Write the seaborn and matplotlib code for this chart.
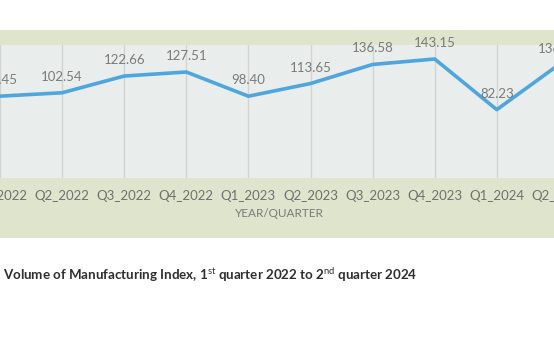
import numpy as np
import pandas as pd
import matplotlib
matplotlib.use("Agg")
import matplotlib.pyplot as plt
from matplotlib.patches import Rectangle
import seaborn as sns

# Volume of Manufacturing Index by quarter
quarters = ["Q1_2022", "Q2_2022", "Q3_2022", "Q4_2022",
            "Q1_2023", "Q2_2023", "Q3_2023", "Q4_2023",
            "Q1_2024", "Q2_2024"]
index_values = [98.45, 102.54, 122.66, 127.51,
                98.40, 113.65, 136.58, 143.15,
                82.23, 136.42]

df = pd.DataFrame({"pos": np.arange(len(quarters)), "quarter": quarters,
                   "value": index_values})

sns.set_theme(style="white")
plt.rcParams["font.family"] = ["Lato", "DejaVu Sans"]
plt.rcParams["mathtext.fontset"] = "custom"
plt.rcParams["mathtext.rm"] = "Lato"
plt.rcParams["mathtext.bf"] = "Lato:bold"

W, H = 554, 346
fig = plt.figure(figsize=(W / 100, H / 100), dpi=100)
fig.patch.set_facecolor("white")

# outer chart panel, behind the plot area
fig.patches.append(Rectangle((0, (H - 238) / H), 1, 208 / H,
                             transform=fig.transFigure,
                             facecolor="#dfe4cd", edgecolor="none", zorder=-10))

step = 62.1
left_px = -0.5 * step
ax = fig.add_axes([left_px / W, (H - 178) / H, 10 * step / W, 133 / H])
ax.set_facecolor("#e9edec")

sns.lineplot(data=df, x="pos", y="value", ax=ax, color="#4ea6de",
             linewidth=2.6, zorder=3)

for i, v in zip(df["pos"], df["value"]):
    ax.annotate(f"{v:.2f}", (i, v), xytext=(0, 11.5), textcoords="offset points",
                ha="center", va="center", fontsize=9.5, color="#7a7a7a")

ax.set_xlim(-0.5, 9.5)
ax.set_ylim(0, 160)
ax.set_xticks(df["pos"], labels=quarters)
ax.set_yticks([])
ax.tick_params(axis="x", length=0, pad=9, labelsize=9.5, labelcolor="#707070")
ax.grid(axis="x", color="#d2d4d4", linewidth=1)
ax.set_axisbelow(True)
for s in ax.spines.values():
    s.set_visible(False)
ax.set_xlabel("YEAR/QUARTER", fontsize=8.5, color="#7a7a7a", labelpad=4)
ax.set_ylabel("")

fig.text(3 / W, (H - 275) / H,
         r"Volume of Manufacturing Index, 1$^{\mathrm{st}}$ quarter 2022 to 2$^{\mathrm{nd}}$ quarter 2024",
         fontsize=9.6, fontweight="bold", color="#2e2e2e", ha="left", va="center")

fig.savefig("out.png", dpi=100)
